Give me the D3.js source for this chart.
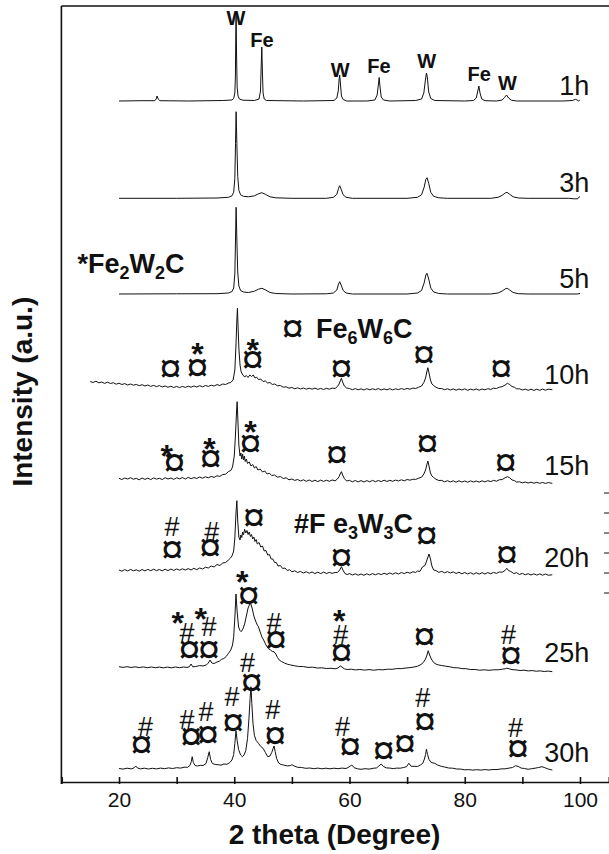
<!DOCTYPE html>
<html>
<head>
<meta charset="utf-8">
<script src="https://cdn.jsdelivr.net/npm/d3@7/dist/d3.min.js"></script>
<style>
  body { margin: 0; background: #fff; }
  text { font-family: "Liberation Sans", Arial, Helvetica, sans-serif; fill: #111; }
</style>
</head>
<body>
<svg id="chart" width="609" height="854"></svg>
<script>
// milling times and the vertical offset of every pattern (a.u.)
var hours = ["1h", "3h", "5h", "10h", "15h", "20h", "25h", "30h"];
var offsets = [681, 583.7, 488, 392, 301, 209, 114, 13.5];

// patterns: [2 theta, intensity above offset]
var p1h = [[20,0],[24,0.3],[26.2,0.3],[26.45,2],[26.6,5],[26.8,2],[27.1,0.3],[32,0],[38,0.5],[39.6,1],[39.9,2.5],[40.1,8],[40.2,25],[40.27,70],[40.32,89],[40.4,45],[40.5,14],[40.65,5],[40.9,2],[41.5,0.8],[43.5,0.5],[44.3,2],[44.55,10],[44.7,40],[44.78,54],[44.88,30],[45.0,8],[45.2,2],[45.6,0.5],[52,0],[57.3,0.5],[57.8,3],[58.05,10],[58.2,22],[58.3,26],[58.42,18],[58.6,5],[58.9,1.5],[59.5,0],[63,0],[64.4,1],[64.8,6],[65.0,16],[65.15,23.5],[65.3,14],[65.5,4],[65.9,1],[67,0],[71.5,0.5],[72.5,2],[72.9,8],[73.15,20],[73.35,28],[73.5,24],[73.75,9],[74.1,2.5],[74.8,0.5],[80,0],[81.5,0.5],[82.0,3],[82.3,11],[82.45,15],[82.65,8],[82.95,2],[83.5,0.3],[85.5,0],[86.5,1],[86.9,3.5],[87.25,6],[87.6,3],[88.1,0.8],[89,0],[97,0],[98.7,0.5],[99.2,1.7],[99.5,1],[99.7,0],[99.9,0.6],[100,0.3]];
var p3h = [[20,0],[30,0],[37,0.3],[39,1],[39.6,2.5],[39.9,6],[40.1,20],[40.22,55],[40.32,86.6],[40.45,55],[40.6,22],[40.8,8],[41.1,3.5],[41.6,2],[42.5,1.5],[43.5,2.5],[44.2,4.5],[44.8,5.6],[45.4,4],[46.2,1.5],[47.2,0.5],[50,0],[56,0],[57.2,1],[57.8,4],[58.1,10],[58.3,12.6],[58.55,9],[58.9,3.5],[59.4,1],[60.5,0],[70,0],[71.8,1],[72.5,3.5],[72.95,11],[73.25,19],[73.45,20.6],[73.75,15],[74.1,6],[74.6,2],[75.5,0.5],[77,0],[84.5,0],[85.8,1],[86.5,3],[87.1,5.6],[87.35,6],[87.8,4],[88.4,1.5],[89.3,0.3],[91,0],[98,0],[99,-0.5],[99.6,-0.5],[99.9,1.5],[100,2]];
var p5h = [[20,0],[30,0.2],[37,0.3],[39,1],[39.6,2.5],[39.9,6],[40.1,20],[40.22,55],[40.32,86.7],[40.45,55],[40.6,22],[40.8,8],[41.1,3.5],[41.6,2],[42.5,1.5],[43.5,2.8],[44.2,4.8],[44.8,5.7],[45.4,4.2],[46.2,1.5],[47.2,0.5],[50,0],[56,0.2],[57.2,1],[57.8,4],[58.1,10],[58.3,12.3],[58.55,9],[58.9,3.5],[59.4,1],[60.5,0],[70,0],[71.8,1],[72.5,3.5],[72.95,11],[73.25,19],[73.45,20.7],[73.75,15],[74.1,6],[74.6,2],[75.5,0.5],[77,0],[84.5,0],[85.8,1],[86.5,3],[87.1,5.4],[87.35,5.7],[87.8,4],[88.4,1.5],[89.3,0.3],[91,0],[99.5,0],[100,0.5]];
var p10h = [[15,8.5],[15.5,7.5],[16,8.8],[16.5,7.2],[17,8],[17.5,6.6],[18,7.8],[18.5,6.5],[19,7.3],[19.5,5.8],[20,6.8],[20.5,5.5],[21,6.4],[21.5,5],[22,6],[22.5,4.8],[23,5.6],[23.5,4.3],[24,5.3],[24.5,4],[25,5],[25.5,3.6],[26,4.6],[26.5,3.4],[27,4.4],[27.5,3],[28,4],[28.5,2.7],[29,3.8],[29.5,2.5],[30,3.6],[30.5,2.4],[31,3.6],[31.5,2.6],[32,3.8],[32.5,2.8],[33,4],[33.5,3],[34,4.3],[34.5,3.2],[35,4.5],[35.5,3.6],[36,4.8],[36.5,4],[37,5.4],[37.5,4.5],[38,6],[38.5,5.5],[39,7],[39.4,7.5],[39.8,10],[40.1,20],[40.3,45],[40.45,70],[40.55,81.7],[40.65,65],[40.8,42],[41,25],[41.2,18],[41.5,15],[41.8,13],[42.1,14.5],[42.4,12.5],[42.7,15],[43,13.5],[43.3,15],[43.6,12],[43.9,12.8],[44.2,10.5],[44.6,11],[45,8.5],[45.4,9],[45.8,7],[46.2,7.5],[46.6,5.5],[47,6],[47.5,4.2],[48,4.5],[48.5,2.8],[49,3.2],[49.5,1.8],[50,2.5],[50.5,1.2],[51,2.2],[51.5,1],[52,2],[52.5,0.8],[53,1.8],[53.5,0.8],[54,1.9],[54.5,0.6],[55,1.6],[55.5,0.5],[56,1.7],[56.5,0.8],[57,1.9],[57.5,1.5],[57.9,3.5],[58.2,6],[58.45,10],[58.6,11.7],[58.8,8],[59.1,4],[59.5,2],[60,1.5],[60.5,0.3],[61,1.4],[61.5,0.2],[62,1.2],[62.5,0],[63,1.3],[63.5,0.2],[64,1.2],[64.5,0.3],[65,1.4],[65.5,0],[66,1.1],[66.5,0.2],[67,1.3],[67.5,0.1],[68,1.2],[68.5,0.4],[69,1.5],[69.5,0.5],[70,1.6],[70.5,0.8],[71,1.9],[71.5,1.5],[72,2.8],[72.5,4],[72.9,7.5],[73.2,12],[73.45,19],[73.6,22.3],[73.8,17],[74.05,10],[74.3,6],[74.6,4.5],[75,2.8],[75.5,1.5],[76,1.4],[76.5,0.3],[77,1.2],[77.5,0],[78,1.1],[78.5,-0.2],[79,1],[79.5,0],[80,1.1],[80.5,-0.3],[81,0.9],[81.5,0],[82,1],[82.5,-0.2],[83,1],[83.5,0.2],[84,1.3],[84.5,0.6],[85,1.8],[85.5,1.5],[86,2.8],[86.5,3.3],[87,5],[87.4,6.7],[87.8,5.5],[88.2,3.5],[88.6,2.8],[89,1.2],[89.5,1.2],[90,0],[90.5,0.9],[91,-0.3],[91.5,0.8],[92,-0.4],[92.5,0.8],[93,-0.3],[93.5,0.9],[94,-0.2],[94.5,0.8],[95.2,0.3]];
var p15h = [[20,2.7],[20.5,1.5],[21,3],[21.5,2],[22,3.2],[22.5,1.8],[23,2.6],[23.5,1.2],[24,3],[24.5,1.6],[25,2.8],[25.5,1.4],[26,3.1],[26.5,1.9],[27,2.7],[27.5,1.5],[28,3.3],[28.5,2],[29,3],[29.5,1.6],[30,3.2],[30.5,2.2],[31,3.4],[31.5,2],[32,3.6],[32.5,2.4],[33,3.4],[33.5,2.6],[34,4],[34.5,2.8],[35,4.2],[35.5,3.2],[36,4.6],[36.5,3.6],[37,5.2],[37.5,4.6],[38,6.5],[38.5,6.8],[39,9.5],[39.4,10.5],[39.7,14],[40,25],[40.2,45],[40.4,70],[40.5,79.3],[40.62,62],[40.8,36],[41,25],[41.15,28],[41.3,22],[41.45,27],[41.6,21],[41.75,25],[41.9,19.5],[42.1,22],[42.3,17.5],[42.6,19],[42.9,15],[43.2,16.5],[43.5,13],[43.8,14.5],[44.1,11],[44.5,12],[44.9,9],[45.3,10],[45.7,7],[46.1,7.8],[46.5,5.5],[47,6],[47.5,3.8],[48,4.5],[48.5,2.5],[49,3.2],[49.5,1.2],[50,2],[50.5,0.6],[51,1.5],[51.5,0],[52,1.2],[52.5,-0.3],[53,1],[53.5,-0.5],[54,0.8],[54.5,-0.6],[55,0.9],[55.5,-0.4],[56,0.8],[56.5,-0.3],[57,1],[57.5,0.2],[57.9,2],[58.2,4.5],[58.45,8],[58.6,9.3],[58.8,6],[59.1,2.5],[59.5,0],[60,0.6],[60.5,-0.8],[61,0.5],[61.5,-0.9],[62,0.4],[62.5,-1],[63,0.4],[63.5,-0.8],[64,0.6],[64.5,-0.7],[65,0.5],[65.5,-0.6],[66,0.8],[66.5,-0.5],[67,0.7],[67.5,-0.3],[68,0.9],[68.5,0],[69,1.2],[69.5,0.2],[70,1.5],[70.5,0.8],[71,1.8],[71.5,1.6],[72,2.8],[72.5,3.8],[72.9,7],[73.2,11],[73.45,17],[73.6,20],[73.8,15],[74.05,8],[74.3,5],[74.6,3.5],[75,1.8],[75.5,0.5],[76,0.6],[76.5,-0.8],[77,0.3],[77.5,-1],[78,0.2],[78.5,-1.2],[79,0.2],[79.5,-1],[80,0],[80.5,-1.2],[81,0.1],[81.5,-1],[82,0],[82.5,-1.1],[83,0.2],[83.5,-0.9],[84,0.3],[84.5,-0.6],[85,0.6],[85.5,-0.2],[86,1.2],[86.5,1.5],[87,3.2],[87.4,4.3],[87.8,3.2],[88.2,1],[88.6,0.5],[89,-1],[89.5,-0.8],[90,-1.8],[90.5,-1],[91,-2],[91.5,-1.2],[92,-2.2],[92.5,-1.3],[93,-2.3],[93.5,-1.5],[94,-2.4],[94.5,-1.6],[95.2,-2.3]];
var p20h = [[20,3],[20.5,1.8],[21,3.4],[21.5,2],[22,3.6],[22.5,2.2],[23,3.2],[23.5,1.8],[24,3.5],[24.5,2.1],[25,3.6],[25.5,2.3],[26,3.8],[26.5,2.4],[27,3.5],[27.5,2.2],[28,3.8],[28.5,2.4],[29,3.9],[29.5,2.6],[30,4],[30.5,2.8],[31,4.2],[31.5,3],[32,4.4],[32.5,3.1],[33,4.6],[33.5,3.4],[34,5],[34.5,4],[35,5.8],[35.5,5],[36,7],[36.5,6],[37,8.5],[37.5,7.5],[38,10],[38.5,10.5],[39,13],[39.3,14.7],[39.6,17],[39.9,22],[40.1,35],[40.3,60],[40.45,72.3],[40.6,52],[40.8,36],[41,33],[41.15,38],[41.3,35.5],[41.45,41],[41.6,38],[41.8,43.7],[42,40],[42.2,42.5],[42.4,38.5],[42.6,41],[42.8,36.5],[43,38.5],[43.2,34],[43.4,36],[43.6,31.5],[43.8,33.5],[44,29],[44.3,30.5],[44.6,26],[44.9,27],[45.2,22],[45.5,22.5],[45.8,18],[46.1,18.5],[46.4,14],[46.7,14],[47,10.5],[47.3,10.5],[47.6,7],[48,7.5],[48.4,4.5],[48.8,5],[49.2,2.5],[49.6,3.3],[50,1.2],[50.5,2.2],[51,0.5],[51.5,1.6],[52,0],[52.5,1.2],[53,-0.2],[53.5,1],[54,-0.5],[54.5,0.8],[55,-0.6],[55.5,0.9],[56,-0.5],[56.5,0.6],[57,-0.3],[57.5,0.5],[57.9,0.5],[58.3,3],[58.6,6.3],[58.85,3],[59.2,-0.5],[59.6,-1.5],[60,-0.6],[60.5,-2],[61,-0.8],[61.5,-2.2],[62,-1],[62.5,-2.3],[63,-0.8],[63.5,-2],[64,-0.6],[64.5,-1.8],[65,-0.5],[65.5,-1.6],[66,-0.3],[66.5,-1.4],[67,0],[67.5,-1.2],[68,0.2],[68.5,-1],[69,0.5],[69.5,-0.6],[70,0.8],[70.5,-0.2],[71,1.2],[71.5,0.6],[71.8,2],[72.2,1.5],[72.7,6.3],[73.1,7.5],[73.5,14],[73.8,19],[74.05,14],[74.3,7],[74.6,3],[75,2.5],[75.5,0.6],[76,1.6],[76.5,0.2],[77,1.4],[77.5,0],[78,1.1],[78.5,-0.5],[79,0.8],[79.5,-0.8],[80,0.5],[80.5,-1],[81,0.3],[81.5,-1.2],[82,0.2],[82.5,-1.1],[83,0.3],[83.5,-1],[84,0.4],[84.5,-0.8],[85,0.6],[85.5,-0.4],[86,1],[86.5,0.8],[87,2.5],[87.3,4.7],[87.6,2.5],[88,1.5],[88.5,-0.5],[89,0.3],[89.5,-1.5],[90,-0.4],[90.5,-1.8],[91,-0.7],[91.5,-2],[92,-0.8],[92.5,-2.1],[93,-0.9],[93.5,-2.2],[94,-1],[94.5,-2.2],[95.2,-1.8]];
var p25h = [[20,1.3],[20.7,0.6],[21.4,1.3],[22.1,0.5],[22.8,1.2],[23.5,0.4],[24.2,1.1],[24.9,0.3],[25.6,1],[26.3,0.3],[27,0.9],[27.7,0.2],[28.4,0.9],[29.1,0.2],[29.8,1],[30.5,0.3],[31.2,1],[31.8,0.6],[32.2,1.2],[32.5,4],[32.8,1.2],[33.3,1.5],[34,2.4],[34.6,2],[35.2,3.2],[35.5,5],[35.8,8],[36.1,5],[36.5,4.5],[37,6],[37.4,6.8],[37.8,8.7],[38.2,9.5],[38.6,11.5],[39,14.7],[39.4,18],[39.7,23],[39.9,31.3],[40.1,50],[40.3,74],[40.5,56],[40.75,41],[41,37.5],[41.2,36.3],[41.5,39],[41.8,44],[42.1,52],[42.4,60],[42.8,65.3],[43.1,60],[43.4,52],[43.7,47],[44,43],[44.2,41.3],[44.5,36],[44.8,31],[45.1,28],[45.5,23],[45.9,19.5],[46.3,18],[46.6,16.5],[46.9,16.3],[47.2,14],[47.5,10.5],[47.8,8],[48.2,6.5],[48.7,5],[49.2,3.8],[49.8,3],[50.5,2.2],[51.2,1.5],[52,1.4],[52.8,0.6],[53.6,0.8],[54.4,0],[55.2,0.2],[56,-0.5],[56.8,-0.3],[57.5,-0.8],[58,0],[58.4,2],[58.7,1],[59.1,-0.8],[59.6,-1.5],[60.3,-1.2],[61,-1.9],[61.8,-1.5],[62.6,-2.1],[63.4,-1.6],[64.2,-2.2],[65,-1.6],[65.8,-1.8],[66.6,-1.2],[67.4,-1.3],[68.2,-0.6],[69,-0.6],[69.8,0],[70.5,0.4],[71.2,1],[71.8,1.8],[72.4,3.5],[72.8,5.5],[73.2,9],[73.5,14],[73.65,17.3],[73.9,13],[74.2,9],[74.6,5.5],[75,4],[75.5,3],[76,2.5],[76.7,1.8],[77.4,1.2],[78.1,0.3],[78.8,0.2],[79.5,-0.6],[80.2,-0.7],[81,-1.5],[81.8,-1.5],[82.6,-2.2],[83.4,-1.8],[84.2,-2.3],[85,-1.8],[85.8,-1.8],[86.5,-1.2],[87,-0.8],[87.3,-0.2],[87.7,-0.8],[88.2,-1.6],[88.9,-1.9],[89.6,-2.5],[90.3,-2.2],[91,-2.9],[91.7,-2.6],[92.4,-3.2],[93.1,-2.9],[93.8,-3.5],[94.5,-3.1],[95.2,-3.7]];
var p30h = [[20,0],[20.7,-0.6],[21.4,0.3],[22.1,-0.4],[22.6,0.6],[22.9,2.5],[23.2,0.5],[23.7,-0.4],[24.4,0.3],[25.1,-0.5],[25.8,0.2],[26.5,-0.4],[27.2,0.4],[27.9,-0.2],[28.6,0.6],[29.3,0],[30,0.8],[30.7,0.4],[31.3,1.3],[31.9,1.2],[32.3,3],[32.55,7],[32.7,11.8],[32.9,6],[33.2,3],[33.6,2.5],[34.1,3.2],[34.6,3],[35.1,5],[35.4,11],[35.65,16.8],[35.9,9],[36.2,5],[36.7,4],[37.2,3.8],[37.7,3.3],[38.2,4.5],[38.7,4.2],[39.2,5.8],[39.6,8.5],[39.9,14],[40.1,25],[40.3,37.5],[40.5,28],[40.75,19],[41.1,13.5],[41.4,11.8],[41.7,13.5],[42,18],[42.3,30],[42.55,50],[42.75,70],[42.9,81.8],[43.05,65],[43.25,45],[43.5,33],[43.8,28],[44.2,25.2],[44.6,22],[45,20.2],[45.4,16],[45.8,11.8],[46.2,12.5],[46.5,16],[46.75,20],[46.9,22.5],[47.1,17],[47.35,10],[47.7,5.5],[48.1,4],[48.6,3.4],[49.2,2.6],[49.7,2.8],[50,3.8],[50.4,2.5],[51,1.2],[51.7,1],[52.4,0.2],[53.1,0.5],[53.8,-0.2],[54.5,0.4],[55.2,-0.3],[55.9,0.3],[56.6,-0.3],[57.3,0.3],[58,-0.2],[58.7,0.4],[59.4,0],[59.9,1.5],[60.4,3.5],[60.8,0.8],[61.4,-0.3],[62,-0.8],[62.7,-0.2],[63.4,-0.6],[64.1,0.2],[64.7,0.6],[65.1,2.5],[65.5,4.5],[65.9,2],[66.4,0.6],[67,0.4],[67.6,-0.1],[68.2,0.4],[68.8,0.3],[69.4,1],[69.9,1.8],[70.3,5.2],[70.7,2.2],[71.2,2.2],[71.8,2],[72.3,3.5],[72.7,5],[73,9.5],[73.2,14],[73.35,19.2],[73.55,14],[73.8,9],[74.1,6.5],[74.5,5.5],[74.8,5.2],[75.3,3.5],[75.9,2.2],[76.5,1.5],[77.2,0.5],[77.9,0.3],[78.6,-0.5],[79.3,-0.6],[80,-1.3],[80.7,-1.1],[81.4,-1.6],[82.1,-1.2],[82.8,-1.6],[83.5,-1.1],[84.2,-1.5],[84.9,-1],[85.6,-1.1],[86.3,-0.4],[87,-0.3],[87.7,0.4],[88.3,1],[88.8,2.8],[89.3,2],[89.8,0.4],[90.4,0],[91,-0.8],[91.6,-0.2],[92.2,0.3],[92.8,1],[93.4,1.8],[93.9,0.8],[94.5,-0.6],[95.2,-1.5]];
var patterns = [p1h, p3h, p5h, p10h, p15h, p20h, p25h, p30h];

// phase labels above the 1h peaks: [text, 2 theta, level]
var peakNames = [["W",40.3,764],["Fe",44.8,742],["W",58.4,712],["Fe",65.1,716.3],["W",73.4,721.3],["Fe",82.5,708.7],["W",87.4,699.3]];

// reflection markers: [symbol, 2 theta, level]
var markers = [
  ["¤",28.9,413.7],["¤",33.6,414.3],["*",33.6,435.3],["¤",43.2,422],["*",43.2,439.3],["¤",58.6,413.7],["¤",72.9,427],["¤",86.3,413.7],
  ["¤",29.6,319.3],["*",28.3,333.7],["¤",35.9,323.7],["*",35.7,340.3],["¤",42.8,338.7],["*",42.8,357],["¤",57.8,327],["¤",73.5,338.7],["¤",87.1,319.3],
  ["#",29.2,254.7],["¤",29.2,232.7],["#",36.1,250.3],["¤",35.8,234.7],["¤",43.4,264.7],["¤",58.6,224.7],["¤",73.4,246],["¤",87.3,227],
  ["*",30.2,166],["#",31.8,148.7],["¤",32.2,132],["*",34.2,170.3],["#",35.6,155.3],["¤",35.6,132.7],["*",41.4,207],["¤",42.5,186],["#",46.9,159.5],["¤",47.2,142.7],["*",58.2,168],["#",58.5,147],["¤",58.6,129.3],["¤",73.0,145.3],["#",87.6,147],["¤",88.0,126.7],
  ["#",24.6,55.3],["¤",23.9,37],["#",31.8,62],["¤",32.5,45.3],["#",35.1,70.3],["¤",35.4,47],["#",39.6,85.3],["¤",39.8,59.3],["#",42.3,118.7],["¤",43.0,99.7],["#",46.7,72],["¤",47.1,46],["#",58.8,54.7],["¤",60.1,35.3],["¤",65.9,31],["¤",69.6,38.7],["#",72.7,83.7],["¤",73.1,60.3],["#",88.8,53.7],["¤",89.2,33.7]
];

var xTicks = [10, 20, 30, 40, 50, 60, 70, 80, 90, 100];

var svg = d3.select("#chart");
var x = d3.scaleLinear().domain([10, 105]).range([61.4, 608.8]);
var y = d3.scaleLinear().domain([0, 776]).range([782, 6]);

// glyph size, weight and how far the ink centre sits above the baseline (em)
var glyph = {"¤": {size: 40, weight: "normal", mid: 0.33},
             "#": {size: 27, weight: "normal", mid: 0.34},
             "*": {size: 32, weight: "bold", mid: 0.575}};

// frame: left axis and top edge
svg.append("line").attr("x1", x(10)).attr("x2", x(10)).attr("y1", y(776)).attr("y2", y(0) + 2)
   .attr("stroke", "#111").attr("stroke-width", 1.6);
svg.append("line").attr("x1", x(10)).attr("x2", 609).attr("y1", y(776)).attr("y2", y(776))
   .attr("stroke", "#111").attr("stroke-width", 1.6);

// x axis
var xAxis = svg.append("g")
  .attr("transform", "translate(0," + y(0) + ")")
  .call(d3.axisBottom(x).tickValues(xTicks).tickSizeOuter(0).tickSize(-5)
        .tickFormat(function(d) { return d % 20 === 0 ? d : ""; }));
xAxis.select(".domain").attr("stroke", "#111").attr("stroke-width", 1.6);
xAxis.selectAll(".tick line").attr("y1", 2).attr("stroke", "#111").attr("stroke-width", 1.6);
xAxis.selectAll(".tick text").attr("y", 25).attr("dy", 0)
  .style("font-family", '"Liberation Sans", Arial, sans-serif').style("font-size", "21px").attr("fill", "#111");

svg.append("text").attr("x", 334.5).attr("y", 844).attr("text-anchor", "middle")
   .style("font-size", "28px").style("font-weight", "bold").text("2 theta (Degree)");
svg.append("text").attr("transform", "translate(32.3,391.7) rotate(-90)").attr("text-anchor", "middle")
   .style("font-size", "28px").style("font-weight", "bold").text("Intensity (a.u.)");

// patterns
var line = d3.line().x(function(d) { return x(d[0]); }).y(function(d) { return y(d[1]); });
svg.selectAll(".pattern")
  .data(patterns)
  .enter().append("path")
  .attr("class", "pattern")
  .attr("d", function(pts, i) {
    return line(pts.map(function(p) { return [p[0], p[1] + offsets[i]]; }));
  })
  .attr("fill", "none").attr("stroke", "#111").attr("stroke-width", 1).attr("stroke-linejoin", "round");

// time labels
svg.selectAll(".hour")
  .data(hours)
  .enter().append("text")
  .attr("class", "hour")
  .attr("x", x(101.6)).attr("y", function(d, i) { return y(offsets[i]) - 6.3; })
  .attr("text-anchor", "end").style("font-size", "27px")
  .text(function(d) { return d; });

// W / Fe labels
svg.selectAll(".phase")
  .data(peakNames)
  .enter().append("text")
  .attr("x", function(d) { return x(d[1]); }).attr("y", function(d) { return y(d[2]) + 7.2; })
  .attr("text-anchor", "middle").style("font-size", "20px").style("font-weight", "bold")
  .text(function(d) { return d[0]; });

// reflection markers
function putGlyph(sel) {
  sel.attr("text-anchor", "middle")
     .style("font-size", function(d) { return glyph[d[0]].size + "px"; })
     .style("font-weight", function(d) { return glyph[d[0]].weight; })
     .text(function(d) { return d[0]; });
}
svg.selectAll(".mark")
  .data(markers)
  .enter().append("text")
  .attr("class", "mark")
  .attr("x", function(d) { return x(d[1]); })
  .attr("y", function(d) { var g = glyph[d[0]]; return y(d[2]) + g.mid * g.size; })
  .call(putGlyph);

// legend entries with subscripts
function formula(xp, yp, parts) {
  var t = svg.append("text").attr("x", xp).attr("y", yp).style("font-size", "27px").style("font-weight", "bold");
  parts.forEach(function(p) {
    if (p.sub) t.append("tspan").attr("dy", 6).style("font-size", "18px").text(p.s);
    else t.append("tspan").attr("dy", p.up ? -6 : 0).text(p.s);
  });
  return t;
}
formula(77.5, 273, [{s:"*Fe"},{s:"2",sub:1},{s:"W",up:1},{s:"2",sub:1},{s:"C",up:1}]);
svg.append("text").datum(["¤"])
   .attr("x", 292.5).attr("y", 328.3 + glyph["¤"].mid * glyph["¤"].size).call(putGlyph);
formula(316, 338, [{s:"Fe"},{s:"6",sub:1},{s:"W",up:1},{s:"6",sub:1},{s:"C",up:1}]);
formula(294, 533, [{s:"#F e"},{s:"3",sub:1},{s:"W",up:1},{s:"3",sub:1},{s:"C",up:1}]);

// clipped tick marks of the neighbouring frame at the right edge
svg.selectAll(".edge")
  .data([493, 513, 533, 553, 573, 593])
  .enter().append("line")
  .attr("x1", 604).attr("x2", 609).attr("y1", function(d) { return d; }).attr("y2", function(d) { return d; })
  .attr("stroke", "#111").attr("stroke-width", 1);
</script>
</body>
</html>
